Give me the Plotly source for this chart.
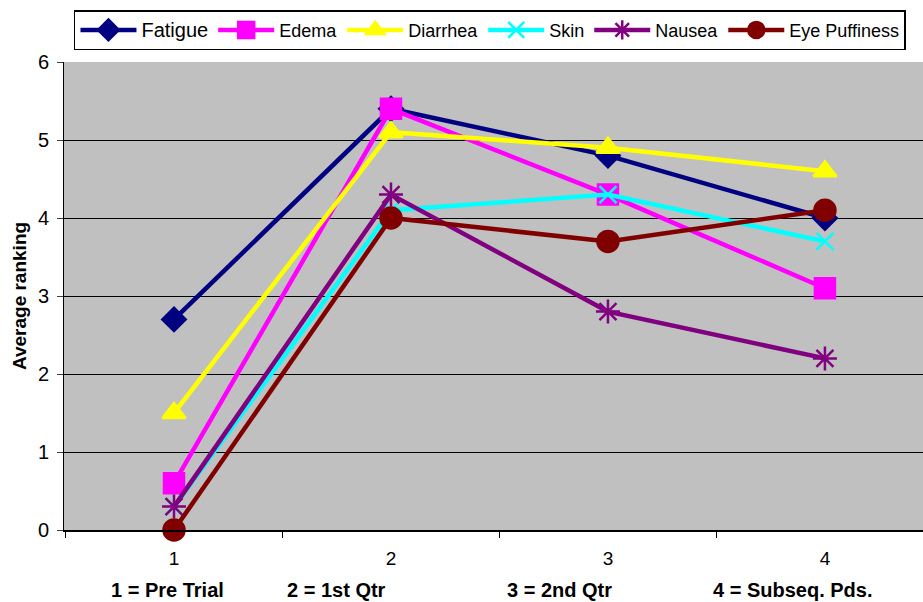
import plotly.graph_objects as go

periods = [1, 2, 3, 4]
period_labels = ["1 = Pre Trial", "2 = 1st Qtr", "3 = 2nd Qtr", "4 = Subseq. Pds."]

fatigue = [2.7, 5.4, 4.8, 4.0]
edema = [0.6, 5.4, 4.3, 3.1]
diarrhea = [1.5, 5.1, 4.9, 4.6]
skin = [0.3, 4.1, 4.3, 3.7]
nausea = [0.3, 4.3, 2.8, 2.2]
eye_puffiness = [0.0, 4.0, 3.7, 4.1]

series = [
    ("<span style='font-size:20px'>Fatigue</span>", fatigue, "#000080", "diamond", 18),
    ("Edema", edema, "#FF00FF", "square", 20),
    ("Diarrhea", diarrhea, "#FFFF00", "triangle-up", 20),
    ("Skin", skin, "#00FFFF", "x-thin-open", 17),
    ("Nausea", nausea, "#800080", "asterisk-open", 20),
    ("Eye Puffiness", eye_puffiness, "#800000", "circle", 21),
]

fig = go.Figure()
for name, vals, color, symbol, size in series:
    fig.add_trace(go.Scatter(
        x=periods, y=vals, name=name, mode="lines+markers",
        line=dict(color=color, width=4.5),
        marker=dict(symbol=symbol, size=size, color=color,
                    line=dict(color=color, width=2.5)),
        cliponaxis=False,
    ))

font_family = "Liberation Sans, Arial, sans-serif"

# category names placed beneath the numeric axis labels
label_x = [0.120, 0.317, 0.577, 0.849]
for lx, text in zip(label_x, period_labels):
    fig.add_annotation(
        x=lx, y=-0.128, xref="paper", yref="paper",
        text=f"<b>{text}</b>", showarrow=False,
        font=dict(size=20, color="black", family=font_family),
        xanchor="center", yanchor="middle",
    )

fig.update_layout(
    width=923, height=602,
    margin=dict(l=64, r=0, t=62, b=72),
    paper_bgcolor="white",
    plot_bgcolor="#C0C0C0",
    font=dict(family=font_family, color="black", size=18),
    showlegend=True,
    legend=dict(
        orientation="h", x=0.0116, xanchor="left", y=1.068, yanchor="middle",
        bgcolor="white", bordercolor="black", borderwidth=1.5,
        font=dict(size=18, family=font_family),
        itemwidth=56, tracegroupgap=0,
    ),
    xaxis=dict(
        range=[0.493, 4.452],
        tickvals=periods, ticktext=[str(p) for p in periods],
        ticks="", showgrid=False, zeroline=False,
        showline=True, linecolor="black", linewidth=2,
        tickfont=dict(size=19), ticklabelstandoff=10,
        minor=dict(tickvals=[0.5, 1.5, 2.5, 3.5, 4.5], ticks="outside",
                   ticklen=6, tickcolor="black", tickwidth=1, showgrid=False),
    ),
    yaxis=dict(
        range=[0, 6], tickvals=[0, 1, 2, 3, 4, 5, 6],
        ticks="outside", ticklen=6, tickcolor="#404040", tickwidth=1,
        showgrid=True, gridcolor="black", gridwidth=1,
        zeroline=False, showline=True, linecolor="black", linewidth=1,
        tickfont=dict(size=20), ticklabelstandoff=4,
        title=dict(text="<b>Average ranking</b>", font=dict(size=19), standoff=6),
    ),
)

fig.write_html("out.html")
